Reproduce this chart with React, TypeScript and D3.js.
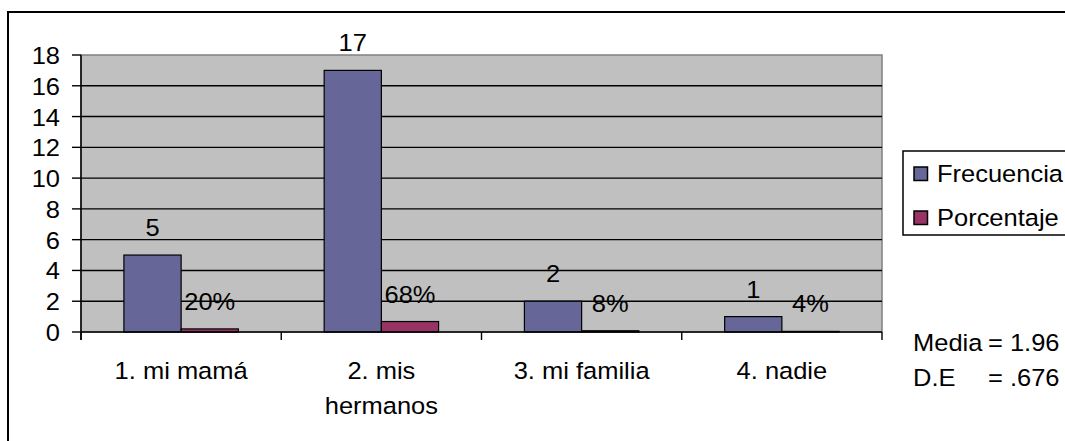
import * as d3 from 'd3';

const categories = ['1. mi mamá', '2. mis hermanos', '3. mi familia', '4. nadie'];
const categoryLines = [['1. mi mamá'], ['2. mis', 'hermanos'], ['3. mi familia'], ['4. nadie']];
const seriesNames = ['Frecuencia', 'Porcentaje'];
const frecuencia = [5, 17, 2, 1];
const porcentaje = [0.2, 0.68, 0.08, 0.04];
const seriesColors = ['#666699', '#993366'];
const statsLines = [
    ['Media', '= 1.96'],
    ['D.E', '= .676'],
];

const W = 1065;
const H = 441;
const SX = 1.04; // text in the picture is a little wide
const FONT = 'Liberation Sans, Arial, sans-serif';

const T = ({ x, y, anchor = 'start', children }: { x: number; y: number; anchor?: string; children: any }) => (
    <text
        transform={`translate(${x},${y}) scale(${SX},1)`}
        textAnchor={anchor}
        fontFamily={FONT}
        fontSize={24.5}
        fill="#000"
    >
        {children}
    </text>
);

export default function App() {
    const plot = { left: 81, right: 882, top: 55, bottom: 332 };

    const x = d3.scaleBand().domain(categories).range([plot.left, plot.right]);
    const inner = d3
        .scaleBand()
        .domain(seriesNames)
        .range([0, x.bandwidth()])
        .paddingInner(0)
        .paddingOuter(0.75);
    const y = d3.scaleLinear().domain([0, 18]).range([plot.bottom, plot.top]);
    const yTicks = y.ticks(9);
    const pct = d3.format('.0%');

    const values = [frecuencia, porcentaje];
    const labels = [frecuencia.map(String), porcentaje.map((v) => pct(v))];

    const xTicks = categories.map((c) => x(c)!).concat(plot.right);

    return (
        <svg width={W} height={H} style={{ position: 'absolute', left: 0, top: 0, background: '#fff' }}>
            {/* outer chart frame, cut at right and bottom */}
            <rect x={8} y={12} width={W + 20} height={H + 20} fill="#fff" stroke="#000" strokeWidth={2} />

            {/* plot area */}
            <rect
                x={plot.left}
                y={plot.top}
                width={plot.right - plot.left}
                height={plot.bottom - plot.top}
                fill="#C0C0C0"
                stroke="#808080"
                strokeWidth={1.5}
            />
            {yTicks
                .filter((t) => t > 0 && t < 18)
                .map((t) => (
                    <line key={t} x1={plot.left} x2={plot.right} y1={y(t)} y2={y(t)} stroke="#000" strokeWidth={1.4} />
                ))}

            {/* bars */}
            {seriesNames.map((s, si) =>
                categories.map((c, ci) => {
                    const bx = x(c)! + inner(s)!;
                    const by = y(values[si][ci]);
                    return (
                        <rect
                            key={s + c}
                            x={bx}
                            y={by}
                            width={inner.bandwidth()}
                            height={plot.bottom - by}
                            fill={seriesColors[si]}
                            stroke="#000"
                            strokeWidth={1.2}
                        />
                    );
                })
            )}

            {/* axes */}
            <line x1={plot.left} x2={plot.left} y1={plot.top} y2={plot.bottom + 8} stroke="#000" strokeWidth={1.5} />
            <line x1={plot.left} x2={plot.right} y1={plot.bottom} y2={plot.bottom} stroke="#000" strokeWidth={1.5} />
            {yTicks.map((t) => (
                <g key={'yt' + t}>
                    <line x1={plot.left - 9} x2={plot.left} y1={y(t)} y2={y(t)} stroke="#000" strokeWidth={1.4} />
                    <T x={60} y={y(t) + 9} anchor="end">
                        {t}
                    </T>
                </g>
            ))}
            {xTicks.map((t, i) => (
                <line key={'xt' + i} x1={t} x2={t} y1={plot.bottom} y2={plot.bottom + 8} stroke="#000" strokeWidth={1.4} />
            ))}
            {categories.map((c, ci) =>
                categoryLines[ci].map((ln, li) => (
                    <T key={c + li} x={x(c)! + x.bandwidth() / 2} y={379 + li * 35} anchor="middle">
                        {ln}
                    </T>
                ))
            )}

            {/* value labels */}
            {seriesNames.map((s, si) =>
                categories.map((c, ci) => (
                    <T
                        key={'lb' + s + c}
                        x={x(c)! + inner(s)! + inner.bandwidth() / 2}
                        y={y(values[si][ci]) - 19}
                        anchor="middle"
                    >
                        {labels[si][ci]}
                    </T>
                ))
            )}

            {/* legend */}
            <rect x={903} y={151} width={200} height={84} fill="#fff" stroke="#000" strokeWidth={1.5} />
            {seriesNames.map((s, si) => (
                <g key={'lg' + s}>
                    <rect
                        x={914}
                        y={167 + si * 44}
                        width={13.5}
                        height={13.5}
                        fill={seriesColors[si]}
                        stroke="#000"
                        strokeWidth={1.5}
                    />
                    <T x={937} y={182 + si * 44}>
                        {s}
                    </T>
                </g>
            ))}

            {/* stats */}
            {statsLines.map((ln, i) => (
                <g key={'st' + i}>
                    <T x={913} y={351 + i * 35}>
                        {ln[0]}
                    </T>
                    <T x={988} y={351 + i * 35}>
                        {ln[1]}
                    </T>
                </g>
            ))}
        </svg>
    );
}
